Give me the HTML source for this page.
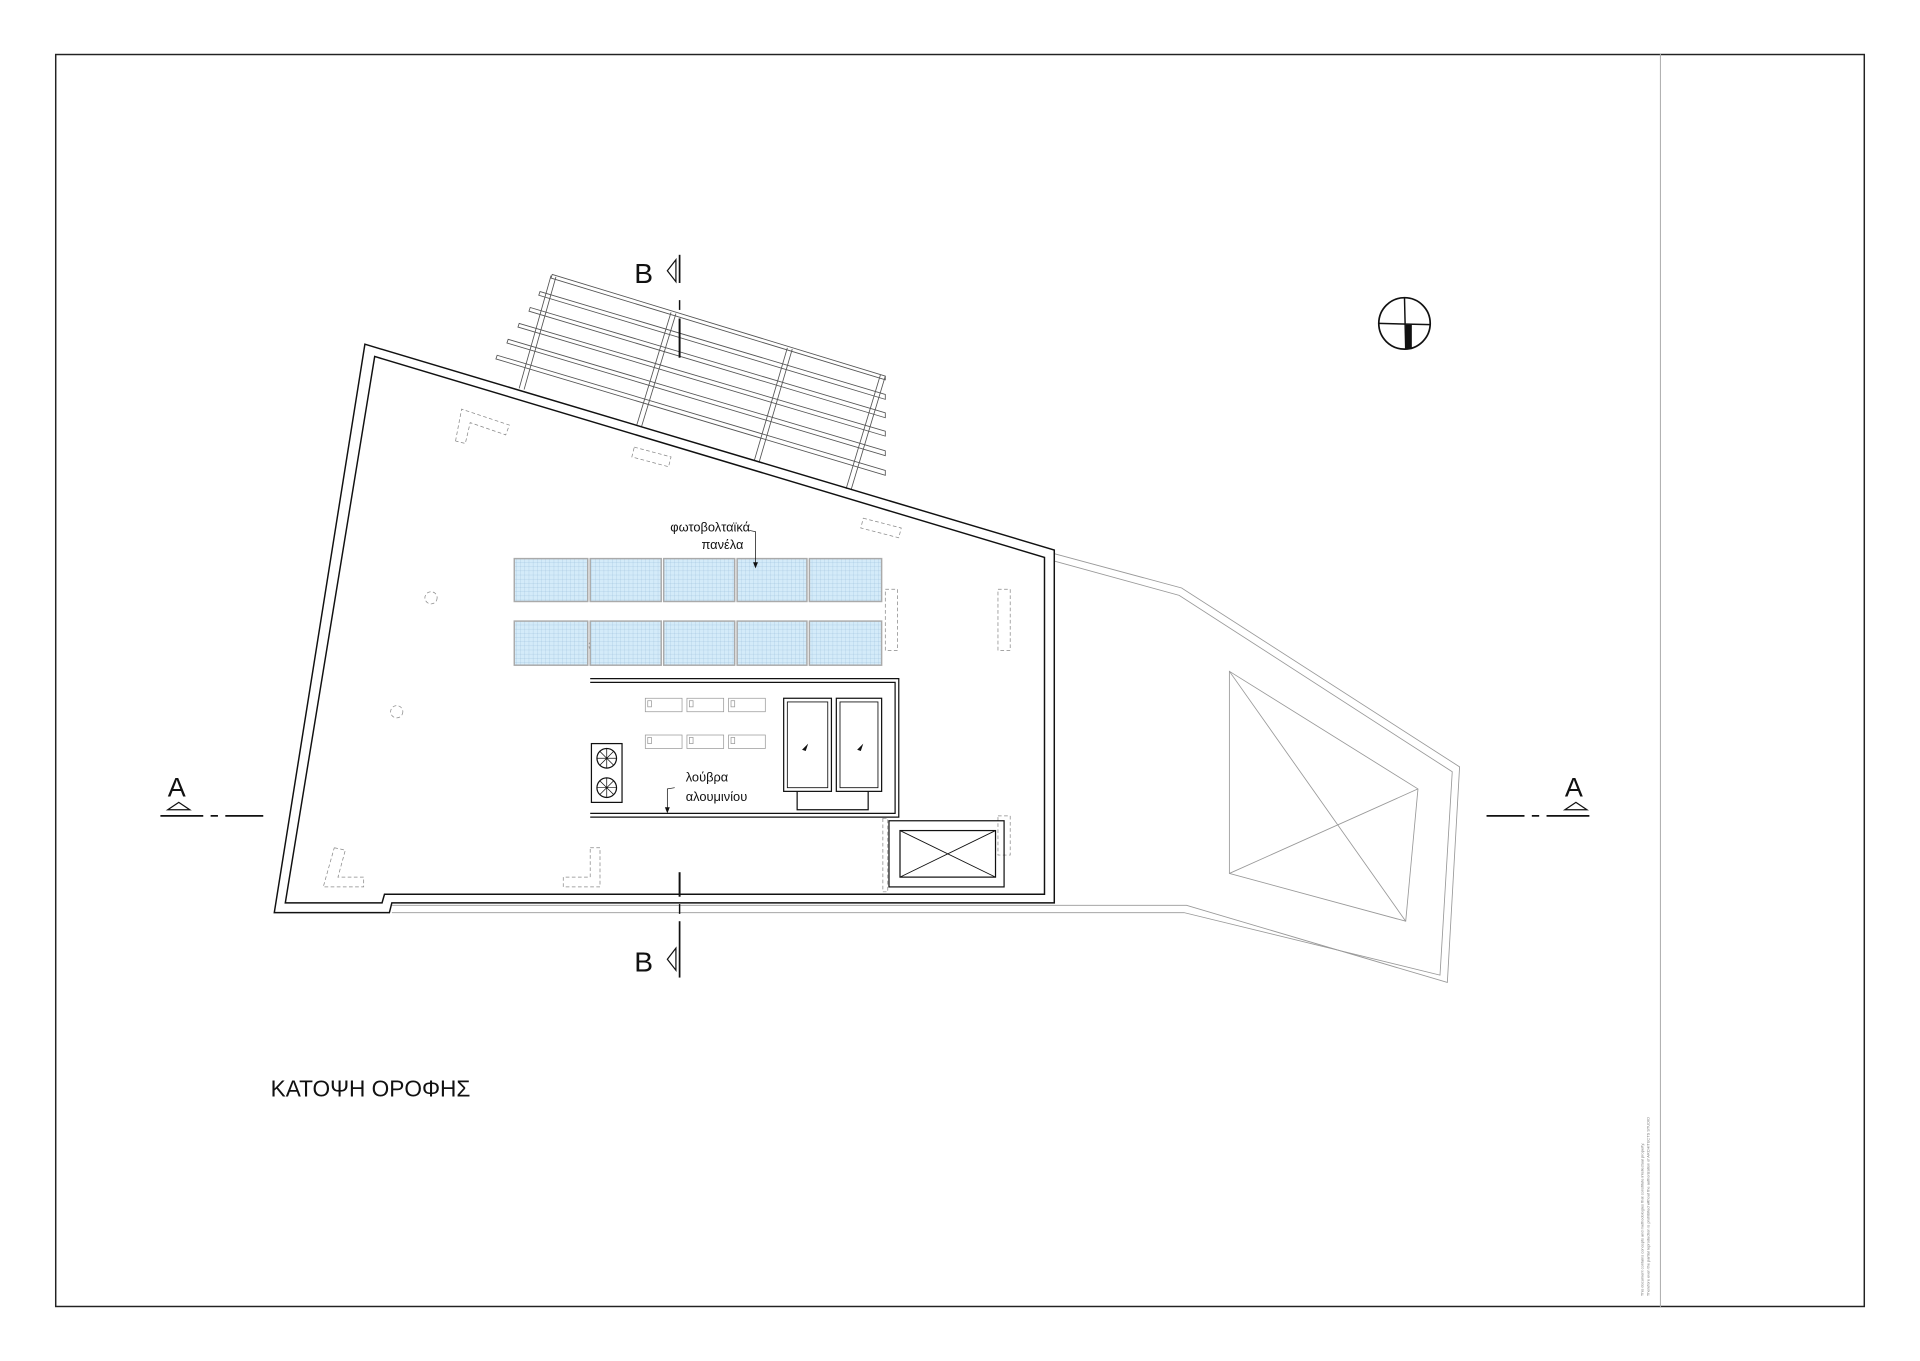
<!DOCTYPE html>
<html><head><meta charset="utf-8"><style>
html,body{margin:0;padding:0;background:#fff}
svg{display:block}
text{font-family:"Liberation Sans",sans-serif}
</style></head><body>
<svg width="1920" height="1361" viewBox="0 0 1568 1111" preserveAspectRatio="none" xmlns="http://www.w3.org/2000/svg">
<defs>
<pattern id="g" width="3.4" height="3.4" patternUnits="userSpaceOnUse">
<rect width="3.4" height="3.4" fill="#d4ebf9"/>
<path d="M0 0H3.4M0 0V3.4" stroke="#8fb6d3" stroke-width="0.35" fill="none"/>
</pattern>
</defs>
<rect x="0" y="0" width="1568" height="1111" fill="#fff"/>
<rect x="45.5" y="44.5" width="1477" height="1022" fill="none" stroke="#222" stroke-width="1.2"/>
<line x1="1356" y1="44" x2="1356" y2="1067" stroke="#aaa" stroke-width="0.8"/>
<text transform="translate(1342,1058) rotate(-90)" font-size="3.2" fill="#777">This document contains concepts and methodologies that constitute intellectual property.</text>
<text transform="translate(1347,1058) rotate(-90)" font-size="3.2" fill="#777">Therefore even the partial reproduction is prohibited without the authorization of ARCHITECTS STUDIO</text>

<!-- terrace right -->
<g fill="none" stroke="#999" stroke-width="0.7">
<polyline points="861,452 965,480 1192,626 1182,802 969,739 320,739"/>
<polyline points="861,458 963,486 1186,630 1176,796 967,745 320,745"/>
<polygon points="1004,548 1158,644 1148,752 1004,713"/>
<line x1="1004" y1="548" x2="1148" y2="752"/>
<line x1="1004" y1="713" x2="1158" y2="644"/>
</g>

<!-- pergola -->
<g fill="none" stroke="#555" stroke-width="0.7">
<polygon points="451,224 723,307 723,310 450,227"/>
<polygon points="441,238 723,322 723,326 440,241"/>
<polygon points="433,251 723,337 723,341 432,254"/>
<polygon points="424,264 723,352 723,356 423,267"/>
<polygon points="415,277 723,368 723,372 414,280"/>
<polygon points="406,290 723,384 723,388 405,293"/>
<polyline points="450,225 424,317"/><polyline points="454,226 428,318"/>
<polyline points="548,255 520,347"/><polyline points="552,256 524,348"/>
<polyline points="643,284 616,376"/><polyline points="647,285 620,377"/>
<polyline points="719,306 691,399"/><polyline points="723,307 695,400"/>
</g>

<!-- roof -->
<g fill="none" stroke="#111" stroke-width="1.2">
<polygon points="298,281 861,449 861,737 320,737 318,745 224,745"/>
<polygon points="306,291 853,455 853,730 314,730 312,737 233,737"/>
</g>

<!-- dashed -->
<g fill="none" stroke="#888" stroke-width="0.6" stroke-dasharray="3,2">
<polyline points="372,360 377,334 416,347 413,355 384,345 380,362 372,360"/>
<polygon points="518,365 548,373 546,381 516,373"/>
<polygon points="705,423 736,431 734,439 703,431"/>
<rect x="723" y="481" width="10" height="50"/>
<rect x="815" y="481" width="10" height="50"/>
<rect x="815" y="666" width="10" height="32"/>
<rect x="721" y="668" width="4" height="60"/>
<polyline points="273,692 282,694 276,716 297,716 297,724 264,724 273,692"/>
<polyline points="482,692 490,692 490,724 460,724 460,716 482,716 482,692"/>
<circle cx="352" cy="488" r="5"/>
<circle cx="324" cy="581" r="5"/>
<circle cx="487" cy="527" r="6"/>
</g>

<!-- solar panels -->
<g stroke="#aaa" stroke-width="1.2" fill="url(#g)">
<rect x="420" y="456" width="60" height="35"/><rect x="482" y="456" width="58" height="35"/><rect x="542" y="456" width="58" height="35"/><rect x="602" y="456" width="57" height="35"/><rect x="661" y="456" width="59" height="35"/>
<rect x="420" y="507" width="60" height="36"/><rect x="482" y="507" width="58" height="36"/><rect x="542" y="507" width="58" height="36"/><rect x="602" y="507" width="57" height="36"/><rect x="661" y="507" width="59" height="36"/>
</g>

<!-- enclosure -->
<g fill="none" stroke="#111" stroke-width="1">
<polyline points="482,554 734,554 734,667 482,667"/>
<polyline points="482,557 731,557 731,664 482,664"/>
<rect x="483" y="607" width="25" height="48"/>
<circle cx="495.5" cy="619" r="8"/><circle cx="495.5" cy="643" r="8"/>
<path d="M487.5 619H503.5M495.5 611V627M490 613.5L501 624.5M490 624.5L501 613.5M487.5 643H503.5M495.5 635V651M490 637.5L501 648.5M490 648.5L501 637.5" stroke-width="0.6"/>
<rect x="640" y="570" width="39" height="76"/><rect x="643" y="573" width="33" height="70" stroke-width="0.7"/>
<rect x="683" y="570" width="37" height="76"/><rect x="686" y="573" width="31" height="70" stroke-width="0.7"/>
<polyline points="651,646 651,661 709,661 709,646"/>
<rect x="726" y="670" width="94" height="54"/>
<rect x="735" y="678" width="78" height="38"/>
<line x1="735" y1="678" x2="813" y2="716" stroke-width="0.7"/><line x1="735" y1="716" x2="813" y2="678" stroke-width="0.7"/>
</g>
<path d="M655 612l5-5-2 6z M700 612l5-5-2 6z" fill="#111"/>
<g fill="#fff" stroke="#999" stroke-width="0.6">
<rect x="527" y="570" width="30" height="11"/><rect x="561" y="570" width="30" height="11"/><rect x="595" y="570" width="30" height="11"/>
<rect x="527" y="600" width="30" height="11"/><rect x="561" y="600" width="30" height="11"/><rect x="595" y="600" width="30" height="11"/>
<rect x="529" y="572" width="3" height="5"/><rect x="563" y="572" width="3" height="5"/><rect x="597" y="572" width="3" height="5"/>
<rect x="529" y="602" width="3" height="5"/><rect x="563" y="602" width="3" height="5"/><rect x="597" y="602" width="3" height="5"/>
</g>

<!-- labels -->
<text x="580" y="434" font-size="10.5" text-anchor="middle" fill="#111">φωτοβολταϊκά</text>
<text x="590" y="448" font-size="10.5" text-anchor="middle" fill="#111">πανέλα</text>
<polyline points="612,433 617,434 617,461" fill="none" stroke="#111" stroke-width="0.6"/>
<path d="M615 459L617 464L619 459z" fill="#111"/>
<text x="560" y="638" font-size="10.5" fill="#111">λούβρα</text>
<text x="560" y="654" font-size="10.5" fill="#111">αλουμινίου</text>
<polyline points="551,643 545,644 545,662" fill="none" stroke="#111" stroke-width="0.6"/>
<path d="M543 659L545 664L547 659z" fill="#111"/>

<!-- section B -->
<g stroke="#111" fill="none">
<line x1="555" y1="208" x2="555" y2="231" stroke-width="1.4"/>
<line x1="555" y1="245" x2="555" y2="253" stroke-width="1.2"/>
<line x1="555" y1="260" x2="555" y2="292" stroke-width="1.6"/>
<line x1="555" y1="712" x2="555" y2="732" stroke-width="1.6"/>
<line x1="555" y1="738" x2="555" y2="746" stroke-width="1.2"/>
<line x1="555" y1="752" x2="555" y2="798" stroke-width="1.4"/>
<polygon points="552,212 545,221 552,230" stroke-width="1"/>
<polygon points="552,774 545,783 552,792" stroke-width="1"/>
<line x1="131" y1="666" x2="166" y2="666" stroke-width="1.4"/>
<line x1="172" y1="666" x2="178" y2="666" stroke-width="1.4"/>
<line x1="184" y1="666" x2="215" y2="666" stroke-width="1.4"/>
<polygon points="137,661 146,655 155,661" stroke-width="1"/>
<line x1="1214" y1="666" x2="1245" y2="666" stroke-width="1.4"/>
<line x1="1251" y1="666" x2="1257" y2="666" stroke-width="1.4"/>
<line x1="1263" y1="666" x2="1298" y2="666" stroke-width="1.4"/>
<polygon points="1278,661 1287,655 1296,661" stroke-width="1"/>
<circle cx="1147" cy="264" r="21" stroke-width="1.4"/>
<line x1="1126" y1="264" x2="1168" y2="265" stroke-width="1.2"/>
<line x1="1147" y1="243" x2="1148" y2="285" stroke-width="1.2"/>
</g>
<rect x="1148" y="265" width="5" height="20" fill="#111"/>
<text x="518" y="231" font-size="23" fill="#111">B</text>
<text x="518" y="793" font-size="23" fill="#111">B</text>
<text x="137" y="650" font-size="22" fill="#111">A</text>
<text x="1278" y="650" font-size="22" fill="#111">A</text>
<text x="221" y="895" font-size="18.5" fill="#111">ΚΑΤΟΨΗ ΟΡΟΦΗΣ</text>
</svg>
</body></html>
